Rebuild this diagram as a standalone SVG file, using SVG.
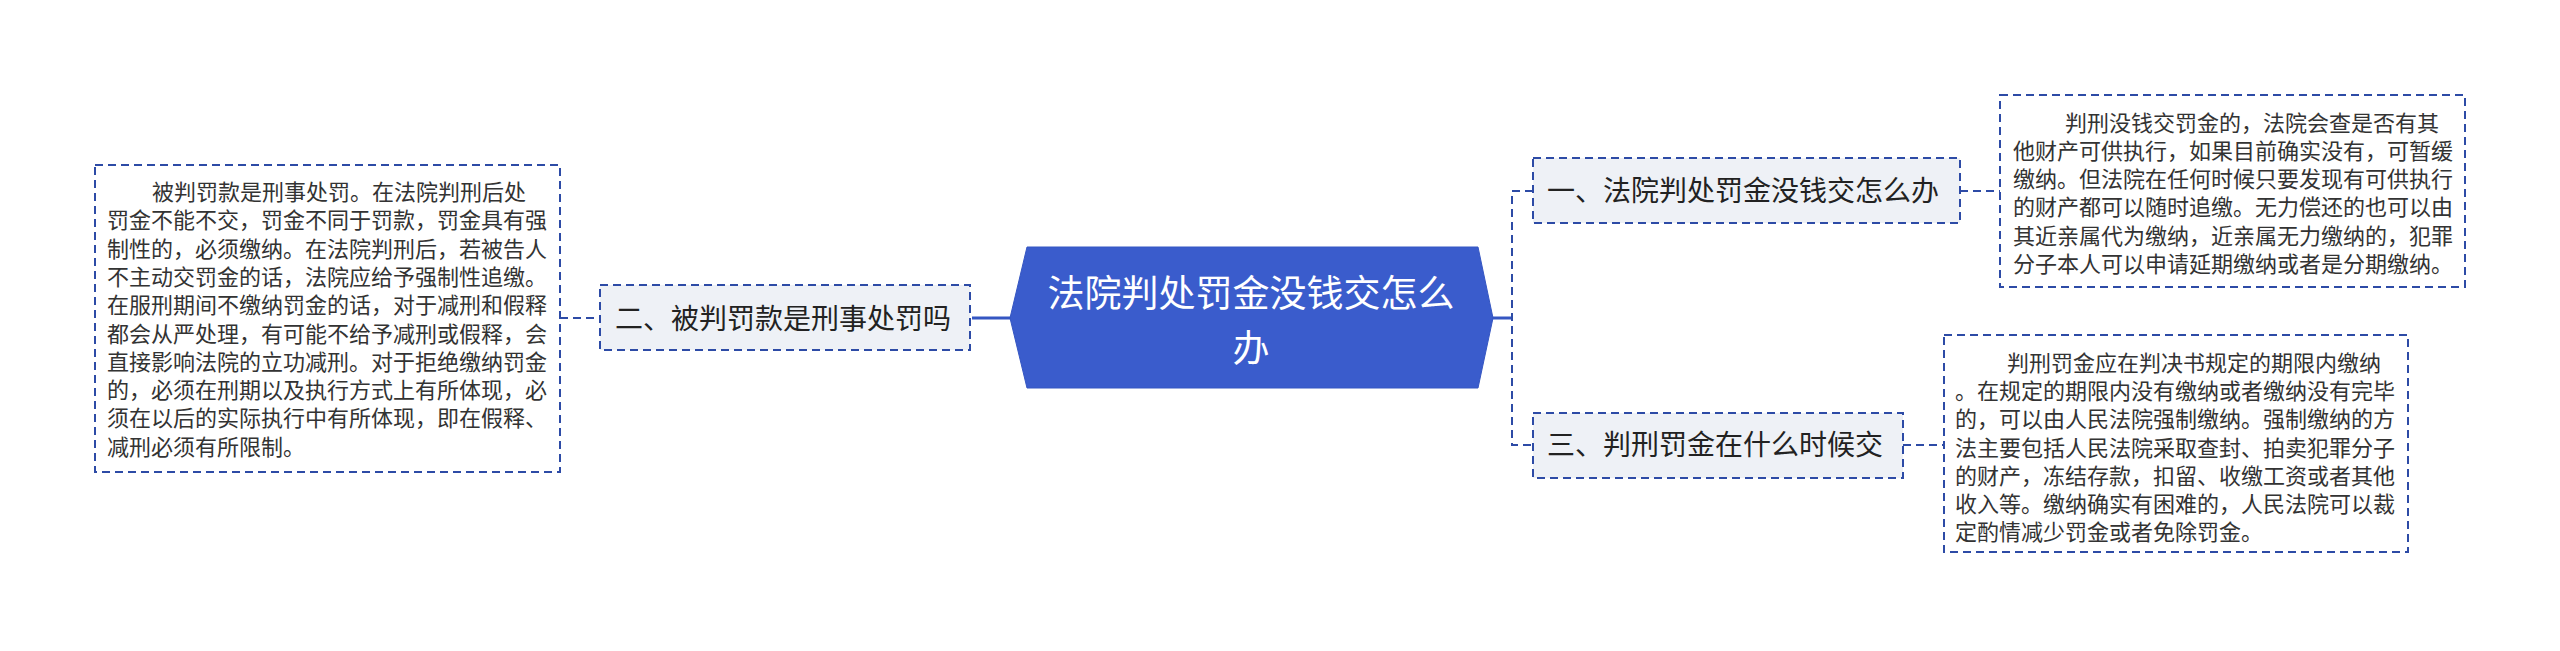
<svg xmlns="http://www.w3.org/2000/svg" width="2560" height="651" viewBox="0 0 2560 651">
<style>
.bg{fill:#ffffff}
.dash{fill:none;stroke:#2D4BA6;stroke-width:2;stroke-dasharray:8 5}
.solid{fill:none;stroke:#3556C2;stroke-width:3}
.branch{fill:#EEF1F6;stroke:#2D4BA6;stroke-width:2;stroke-dasharray:8 5}
.detail{fill:#ffffff;stroke:#2D4BA6;stroke-width:2;stroke-dasharray:8 5}
.center{fill:#3A5CCC;stroke:#3556C2;stroke-width:1}
.ct{font-family:"Noto Sans CJK SC","Noto Sans",sans-serif;font-size:37px;fill:#ffffff;text-anchor:middle}
.bt{font-family:"Noto Sans CJK SC","Noto Sans",sans-serif;font-size:28px;fill:#222222}
.dt{font-family:"Noto Sans CJK SC","Noto Sans",sans-serif;font-size:22px;fill:#333333}
</style>
<rect class="bg" x="0" y="0" width="2560" height="651"/>
<g id="connectors">
<line class="solid" x1="1492" y1="318" x2="1512" y2="318"/>
<path class="dash" d="M1533,191 H1512 V445 H1533"/>
<line class="dash" x1="1960" y1="191" x2="2000" y2="191"/>
<line class="dash" x1="1903" y1="445" x2="1944" y2="445"/>
<line class="solid" x1="972" y1="318" x2="1012" y2="318"/>
<line class="dash" x1="560" y1="318" x2="600" y2="318"/>
</g>
<g id="center">
<polygon class="center" points="1010,318 1027,247 1478,247 1493,318 1478,388 1027,388"/>
<text class="ct" x="1251" y="307">法院判处罚金没钱交怎么</text>
<text class="ct" x="1251" y="362">办</text>
</g>
<g id="branch1">
<rect class="branch" x="1533" y="158" width="427" height="65"/>
<text class="bt" x="1547" y="201">一、法院判处罚金没钱交怎么办</text>
</g>
<g id="branch2">
<rect class="branch" x="600" y="285" width="370" height="65"/>
<text class="bt" x="615" y="329">二、被判罚款是刑事处罚吗</text>
</g>
<g id="branch3">
<rect class="branch" x="1533" y="413" width="370" height="65"/>
<text class="bt" x="1547" y="455">三、判刑罚金在什么时候交</text>
</g>
<g id="detail1">
<rect class="detail" x="2000" y="95" width="465" height="192"/>
<text class="dt">
<tspan x="2065" y="130.5">判刑没钱交罚金的，法院会查是否有其</tspan>
<tspan x="2013" y="158.8">他财产可供执行，如果目前确实没有，可暂缓</tspan>
<tspan x="2013" y="187.1">缴纳。但法院在任何时候只要发现有可供执行</tspan>
<tspan x="2013" y="215.4">的财产都可以随时追缴。无力偿还的也可以由</tspan>
<tspan x="2013" y="243.7">其近亲属代为缴纳，近亲属无力缴纳的，犯罪</tspan>
<tspan x="2013" y="272">分子本人可以申请延期缴纳或者是分期缴纳。</tspan>
</text>
</g>
<g id="detail2">
<rect class="detail" x="95" y="165" width="465" height="307"/>
<text class="dt">
<tspan x="152" y="200">被判罚款是刑事处罚。在法院判刑后处</tspan>
<tspan x="107" y="228.3">罚金不能不交，罚金不同于罚款，罚金具有强</tspan>
<tspan x="107" y="256.6">制性的，必须缴纳。在法院判刑后，若被告人</tspan>
<tspan x="107" y="284.9">不主动交罚金的话，法院应给予强制性追缴。</tspan>
<tspan x="107" y="313.2">在服刑期间不缴纳罚金的话，对于减刑和假释</tspan>
<tspan x="107" y="341.5">都会从严处理，有可能不给予减刑或假释，会</tspan>
<tspan x="107" y="369.8">直接影响法院的立功减刑。对于拒绝缴纳罚金</tspan>
<tspan x="107" y="398.1">的，必须在刑期以及执行方式上有所体现，必</tspan>
<tspan x="107" y="426.4">须在以后的实际执行中有所体现，即在假释、</tspan>
<tspan x="107" y="454.7">减刑必须有所限制。</tspan>
</text>
</g>
<g id="detail3">
<rect class="detail" x="1944" y="335" width="464" height="217"/>
<text class="dt">
<tspan x="2007" y="371">判刑罚金应在判决书规定的期限内缴纳</tspan>
<tspan x="1955" y="399.2">。在规定的期限内没有缴纳或者缴纳没有完毕</tspan>
<tspan x="1955" y="427.4">的，可以由人民法院强制缴纳。强制缴纳的方</tspan>
<tspan x="1955" y="455.6">法主要包括人民法院采取查封、拍卖犯罪分子</tspan>
<tspan x="1955" y="483.8">的财产，冻结存款，扣留、收缴工资或者其他</tspan>
<tspan x="1955" y="512">收入等。缴纳确实有困难的，人民法院可以裁</tspan>
<tspan x="1955" y="540.2">定酌情减少罚金或者免除罚金。</tspan>
</text>
</g>
</svg>
